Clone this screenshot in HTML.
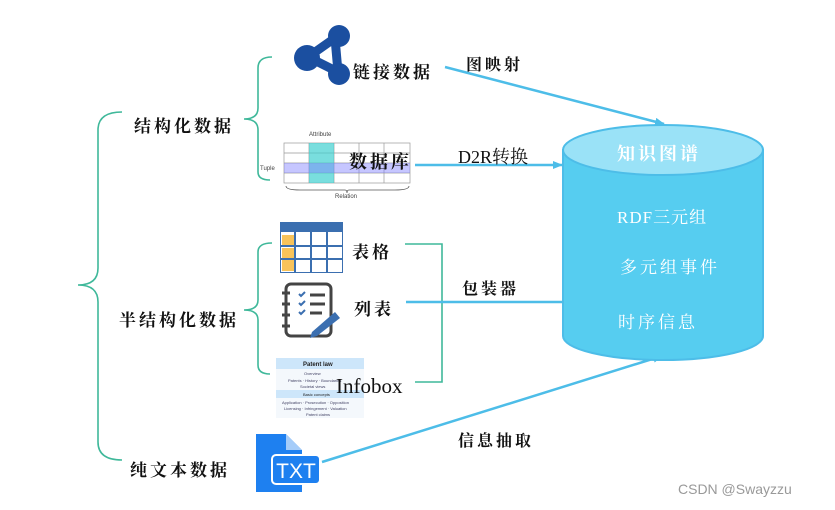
<!DOCTYPE html>
<html><head><meta charset="utf-8"><style>
body{margin:0;width:835px;height:510px;background:#fff;overflow:hidden;position:relative;font-family:"Liberation Serif","Noto Serif CJK SC",serif}
.t{position:absolute;font-family:"Liberation Serif","Noto Serif CJK SC",serif;color:#111;font-weight:bold;letter-spacing:3px;white-space:nowrap}
</style></head><body>
<svg width="835" height="510" style="position:absolute;left:0;top:0">
<defs><marker id="a" markerWidth="10" markerHeight="8" refX="9" refY="4" orient="auto" markerUnits="userSpaceOnUse"><path d="M0,0 L10,4 L0,8 Z" fill="#4dbde8"/></marker></defs>
<g fill="none" stroke="#3fb89a" stroke-width="1.6">
<path d="M122,112 Q98,112 98,130 L98,268 Q98,285 78,285 Q98,285 98,302 L98,442 Q98,460 122,460"/>
<path d="M272,57 Q258,57 258,68 L258,108 Q258,119 244,119 Q258,119 258,130 L258,172 Q258,180 270,180"/>
<path d="M272,243 Q258,243 258,252 L258,300 Q258,310 244,310 Q258,310 258,320 L258,365 Q258,374 270,374"/>
<path d="M405,244 L442,244 L442,382 L415,382"/>
</g>
<g stroke="#4dbde8" stroke-width="2.5" fill="none">
<line x1="445" y1="67" x2="664" y2="124" marker-end="url(#a)"/>
<line x1="415" y1="165" x2="562" y2="165" marker-end="url(#a)"/>
<line x1="406" y1="302" x2="572" y2="302" marker-end="url(#a)"/>
<line x1="322" y1="462" x2="662" y2="356" marker-end="url(#a)"/>
</g>
<!-- cylinder -->
<path d="M563,150 L563,336 A100,24 0 0 0 763,336 L763,150 Z" fill="#56cdf0" stroke="#4dbde8" stroke-width="2"/>
<ellipse cx="663" cy="150" rx="100" ry="25" fill="#9ae2f7" stroke="#4dbde8" stroke-width="2"/>
<!-- linked data icon -->
<g stroke="#1b4fa0" stroke-width="9" fill="none"><path d="M308,57 L335,38 L338,72 Z"/></g>
<circle cx="307" cy="58" r="13" fill="#1b4fa0"/><circle cx="339" cy="36" r="11" fill="#1b4fa0"/><circle cx="339" cy="74" r="11" fill="#1b4fa0"/>
<!-- database table -->
<g stroke="#999" stroke-width="0.7" fill="none">
<rect x="284" y="143" width="126" height="40"/>
<line x1="284" y1="153" x2="410" y2="153"/><line x1="284" y1="163" x2="410" y2="163"/><line x1="284" y1="173" x2="410" y2="173"/>
<line x1="309" y1="143" x2="309" y2="183"/><line x1="334" y1="143" x2="334" y2="183"/><line x1="359" y1="143" x2="359" y2="183"/><line x1="384" y1="143" x2="384" y2="183"/>
</g>
<rect x="309" y="143" width="25" height="40" fill="#40d0d0" opacity="0.7"/>
<rect x="284" y="163" width="126" height="10" fill="#8080ff" opacity="0.45"/>
<text x="309" y="136" font-size="6" font-family="Liberation Sans" fill="#444">Attribute</text>
<text x="260" y="170" font-size="6" font-family="Liberation Sans" fill="#444">Tuple</text>
<text x="335" y="198" font-size="6" font-family="Liberation Sans" fill="#444">Relation</text>
<path d="M286,186 Q286,190 300,190 L345,190 Q347,190 347,193 Q347,190 349,190 L395,190 Q409,190 409,186" stroke="#555" fill="none" stroke-width="0.8"/>
<!-- table icon -->
<rect x="280" y="222" width="63" height="51" fill="#3b6fb0"/>
<rect x="281" y="232" width="61" height="40" fill="#fff"/>
<g fill="#f8c35a"><rect x="282" y="235" width="12" height="10"/><rect x="282" y="248" width="12" height="10"/><rect x="282" y="260" width="12" height="11"/></g>
<g stroke="#3b6fb0" stroke-width="2"><line x1="281" y1="246" x2="342" y2="246"/><line x1="281" y1="259" x2="342" y2="259"/><line x1="295" y1="232" x2="295" y2="272"/><line x1="311" y1="232" x2="311" y2="272"/><line x1="327" y1="232" x2="327" y2="272"/></g>
<!-- list icon -->
<rect x="286" y="284" width="45" height="52" rx="5" fill="none" stroke="#444" stroke-width="3"/>
<g stroke="#444" stroke-width="3"><line x1="282" y1="293" x2="290" y2="293"/><line x1="282" y1="304" x2="290" y2="304"/><line x1="282" y1="315" x2="290" y2="315"/><line x1="282" y1="326" x2="290" y2="326"/>
<line x1="310" y1="295" x2="325" y2="295"/><line x1="310" y1="304" x2="325" y2="304"/><line x1="310" y1="313" x2="322" y2="313"/></g>
<g stroke="#3b6fb0" stroke-width="2" fill="none"><path d="M299,294 l2,2 l4,-4"/><path d="M299,303 l2,2 l4,-4"/><path d="M299,312 l2,2 l4,-4"/></g>
<path d="M312,332 L335,312 L340,318 L317,336 L310,338 Z" fill="#3b6fb0"/>
<!-- infobox -->
<rect x="276" y="358" width="88" height="60" fill="#f4f8fc"/>
<rect x="276" y="358" width="88" height="11" fill="#cde6fa"/>
<rect x="276" y="390" width="88" height="8" fill="#cde6fa"/>
<text x="303" y="366" font-size="6" font-family="Liberation Sans" font-weight="bold" fill="#222">Patent law</text>
<text x="304" y="375" font-size="4" font-family="Liberation Sans" fill="#446">Overview</text>
<text x="288" y="382" font-size="4" font-family="Liberation Sans" fill="#446">Patents · History · Boundaries</text>
<text x="300" y="388" font-size="4" font-family="Liberation Sans" fill="#446">Societal views</text>
<text x="303" y="396" font-size="4" font-family="Liberation Sans" fill="#222">Basic concepts</text>
<text x="282" y="404" font-size="4" font-family="Liberation Sans" fill="#446">Application · Prosecution · Opposition</text>
<text x="284" y="410" font-size="4" font-family="Liberation Sans" fill="#446">Licensing · Infringement · Valuation</text>
<text x="306" y="416" font-size="4" font-family="Liberation Sans" fill="#446">Patent claims</text>
<!-- TXT icon -->
<path d="M256,434 L286,434 L302,450 L302,492 L256,492 Z" fill="#1e80f0"/>
<path d="M286,434 L286,450 L302,450" fill="#fff" opacity="0.6"/>
<rect x="272" y="455" width="48" height="29" rx="4" fill="#1e80f0" stroke="#fff" stroke-width="2"/>
<text x="296" y="478" font-size="21" font-family="Liberation Sans" fill="#fff" text-anchor="middle">TXT</text>
</svg>
<div class="t" style="left:134px;top:112px;font-size:17px">结构化数据</div>
<div class="t" style="left:119px;top:306px;font-size:17px">半结构化数据</div>
<div class="t" style="left:130px;top:456px;font-size:17px">纯文本数据</div>
<div class="t" style="left:353px;top:58px;font-size:17px">链接数据</div>
<div class="t" style="left:349px;top:148px;font-size:18px">数据库</div>
<div class="t" style="left:352px;top:238px;font-size:17px">表格</div>
<div class="t" style="left:354px;top:295px;font-size:17px">列表</div>
<div class="t" style="left:336px;top:374px;font-size:21px;font-weight:normal;letter-spacing:0">Infobox</div>
<div class="t" style="left:466px;top:52px;font-size:16px">图映射</div>
<div class="t" style="left:458px;top:143px;font-size:18px;font-weight:normal;letter-spacing:0">D2R转换</div>
<div class="t" style="left:462px;top:276px;font-size:16px">包装器</div>
<div class="t" style="left:458px;top:428px;font-size:16px">信息抽取</div>
<div class="t" style="left:617px;top:140px;font-size:18px;color:#fff">知识图谱</div>
<div class="t" style="left:617px;top:203px;font-size:17px;color:#fff;font-weight:normal;letter-spacing:1px">RDF三元组</div>
<div class="t" style="left:620px;top:253px;font-size:17px;color:#fff;font-weight:normal">多元组事件</div>
<div class="t" style="left:618px;top:308px;font-size:17px;color:#fff;font-weight:normal">时序信息</div>
<div class="t" style="left:678px;top:481px;font-size:14px;color:#999;font-weight:normal;letter-spacing:0;font-family:'Liberation Sans',sans-serif">CSDN @Swayzzu</div>
</body></html>
